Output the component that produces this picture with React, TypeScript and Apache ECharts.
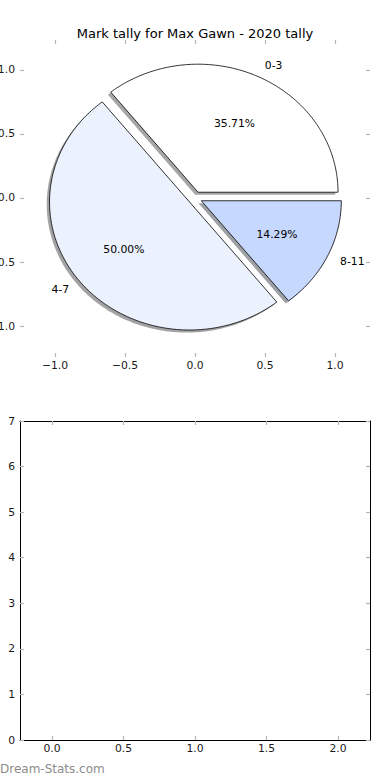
import React, { useEffect, useRef } from "react";
import * as echarts from "echarts";

const titleText = "Mark tally for Max Gawn - 2020 tally";
const sliceLabels = ["0-3", "4-7", "8-11"];
const sliceValues = [5, 7, 2];
const sliceColors = ["#ffffff", "#ebf1fd", "#c6d8fd"];
const pieTicks = [-1, -0.5, 0, 0.5, 1];
const lowerXTicks = [0, 0.5, 1, 1.5, 2];
const lowerYMax = 7;
const watermarkText = "Dream-Stats.com";

const FONT = "DejaVu Sans";
const explode = 0.05;

function fmt(v: number): string {
  if (Math.abs(v) < 1e-9) return "0.0";
  return v < 0 ? "\u2212" + Math.abs(v).toFixed(1) : v.toFixed(1);
}

function hexToRgb(h: string) {
  const n = parseInt(h.slice(1), 16);
  return [(n >> 16) & 255, (n >> 8) & 255, n & 255];
}

export default function App() {
  const ref = useRef<HTMLDivElement>(null);
  useEffect(() => {
    if (!ref.current) return;
    const chart = echarts.init(ref.current, undefined, { renderer: "svg" });
    const total = sliceValues.reduce((a, b) => a + b, 0);
    const tickLine = { color: "#b5b5b5", width: 1.2 };
    const tick = (values?: number[]) => {
      const t: any = { show: true, inside: true, length: 4, lineStyle: tickLine };
      if (values) t.customValues = values;
      return t;
    };
    const labelStyle = { color: "#1a1a1a", fontSize: 10.8, fontFamily: FONT };
    const noLine = { show: false, onZero: false };
    const frameLine = { show: true, onZero: false, lineStyle: { color: "#000", width: 1 } };

    const option: any = {
      animation: false,
      backgroundColor: "#fff",
      title: {
        text: titleText,
        left: "center",
        top: 22,
        textStyle: { fontSize: 13, fontWeight: "normal", color: "#000", fontFamily: FONT },
      },
      grid: [
        { left: 20, top: 40, width: 350, height: 317, containLabel: false, outerBoundsMode: "none" },
        { left: 20, top: 421, width: 350, height: 319, containLabel: false, outerBoundsMode: "none" },
      ],
      xAxis: [
        {
          gridIndex: 0, type: "value", position: "bottom", min: -1.25, max: 1.25,
          axisLine: noLine, splitLine: { show: false },
          axisTick: tick(pieTicks),
          axisLabel: { ...labelStyle, margin: 3, customValues: pieTicks, formatter: fmt },
        },
        {
          gridIndex: 0, type: "value", position: "top", min: -1.25, max: 1.25,
          axisLine: noLine, splitLine: { show: false },
          axisTick: tick(pieTicks), axisLabel: { show: false },
        },
        {
          gridIndex: 1, type: "value", position: "bottom", min: -0.224, max: 2.224,
          axisLine: frameLine, splitLine: { show: false },
          axisTick: tick(lowerXTicks),
          axisLabel: { ...labelStyle, margin: 3, customValues: lowerXTicks, formatter: fmt },
        },
        {
          gridIndex: 1, type: "value", position: "top", min: -0.224, max: 2.224,
          axisLine: frameLine, splitLine: { show: false },
          axisTick: tick(lowerXTicks), axisLabel: { show: false },
        },
      ],
      yAxis: [
        {
          gridIndex: 0, type: "value", position: "left", min: -1.242, max: 1.234,
          axisLine: noLine, splitLine: { show: false },
          axisTick: tick(pieTicks),
          axisLabel: { ...labelStyle, margin: 5, customValues: pieTicks, formatter: fmt },
        },
        {
          gridIndex: 0, type: "value", position: "right", min: -1.242, max: 1.234,
          axisLine: noLine, splitLine: { show: false },
          axisTick: tick(pieTicks), axisLabel: { show: false },
        },
        {
          gridIndex: 1, type: "value", position: "left", min: 0, max: lowerYMax, interval: 1,
          axisLine: frameLine, splitLine: { show: false },
          axisTick: tick(),
          axisLabel: { ...labelStyle, margin: 5 },
        },
        {
          gridIndex: 1, type: "value", position: "right", min: 0, max: lowerYMax, interval: 1,
          axisLine: frameLine, splitLine: { show: false },
          axisTick: tick(),
          axisLabel: { show: false },
        },
      ],
      series: [
        {
          type: "custom",
          xAxisIndex: 0,
          yAxisIndex: 0,
          clip: false,
          data: sliceValues.map((v, i) => [0, 0, v, i]),
          renderItem: (params: any, api: any) => {
            const i = api.value(3) as number;
            const v = sliceValues[i];
            let before = 0;
            for (let k = 0; k < i; k++) before += sliceValues[k];
            const a0 = (before / total) * Math.PI * 2;
            const a1 = ((before + v) / total) * Math.PI * 2;
            const mid = (a0 + a1) / 2;
            const cx = explode * Math.cos(mid);
            const cy = explode * Math.sin(mid);
            const pts: number[][] = [[cx, cy]];
            const N = Math.max(8, Math.ceil(((a1 - a0) * 180) / Math.PI));
            for (let k = 0; k <= N; k++) {
              const a = a0 + ((a1 - a0) * k) / N;
              pts.push([cx + Math.cos(a), cy + Math.sin(a)]);
            }
            const main = pts.map((p) => api.coord(p));
            const shadow = pts.map((p) => api.coord([p[0] - 0.02, p[1] - 0.02]));
            const [r, g, b] = hexToRgb(sliceColors[i]);
            const shadowFill = `rgba(${Math.round(r * 0.3)},${Math.round(g * 0.3)},${Math.round(b * 0.3)},0.5)`;
            const pctPos = api.coord([cx + 0.6 * Math.cos(mid), cy + 0.6 * Math.sin(mid)]);
            const lx = cx + 1.1 * Math.cos(mid);
            const lblPos = api.coord([lx, cy + 1.1 * Math.sin(mid)]);
            return {
              type: "group",
              children: [
                { type: "polygon", z2: 0, shape: { points: shadow }, style: { fill: shadowFill, stroke: "none" } },
                { type: "polygon", z2: 10, shape: { points: main }, style: { fill: sliceColors[i], stroke: "#000", lineWidth: 0.8 } },
                {
                  type: "text", z2: 20, x: pctPos[0], y: pctPos[1],
                  style: {
                    text: ((v / total) * 100).toFixed(2) + "%",
                    fill: "#000", fontSize: 10.8, fontFamily: FONT, align: "center", verticalAlign: "middle",
                  },
                },
                {
                  type: "text", z2: 20, x: lblPos[0], y: lblPos[1],
                  style: {
                    text: sliceLabels[i],
                    fill: "#000", fontSize: 10.8, fontFamily: FONT, align: lx > 0 ? "left" : "right", verticalAlign: "middle",
                  },
                },
              ],
            };
          },
        },
      ],
      graphic: [
        {
          type: "text",
          left: 0,
          top: 763,
          style: { text: watermarkText, fill: "#8c8c8c", fontSize: 12, fontFamily: FONT },
        },
      ],
    };
    chart.setOption(option);
    return () => chart.dispose();
  }, []);
  return (
    <div
      ref={ref}
      style={{ position: "absolute", left: 0, top: 0, width: 390, height: 780, background: "#fff" }}
    />
  );
}
